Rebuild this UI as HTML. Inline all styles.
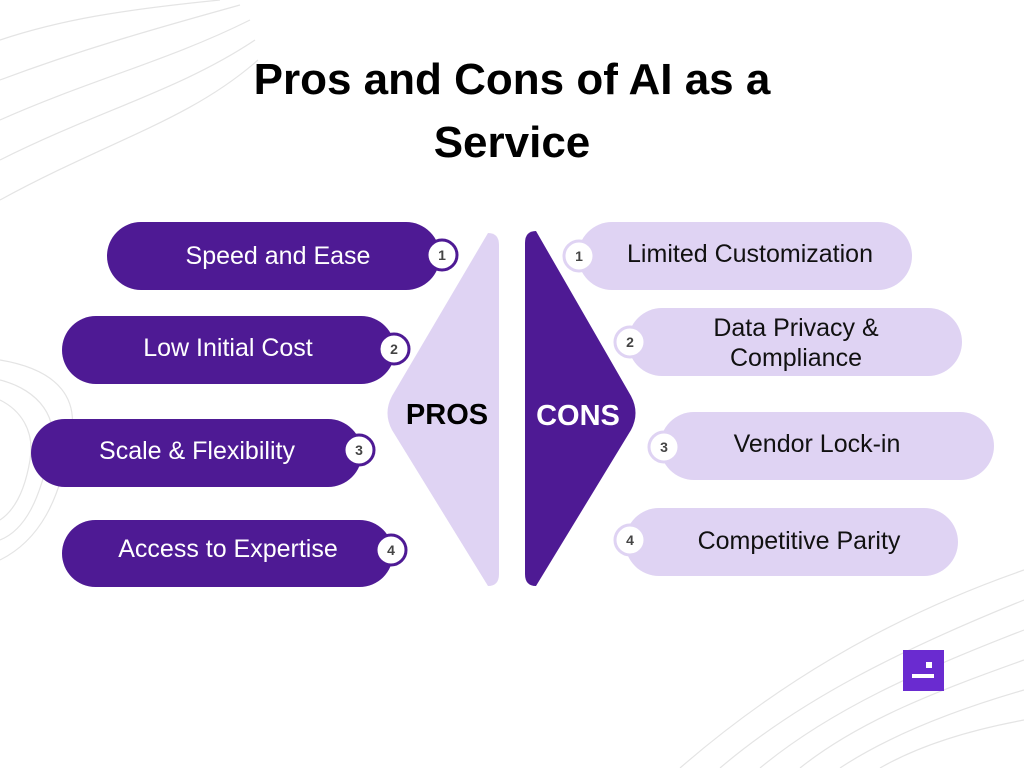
<!DOCTYPE html>
<html><head><style>
html,body{margin:0;padding:0;background:#fff;}
svg{display:block;}
text{font-family:"Liberation Sans",sans-serif;}
</style></head><body>
<svg width="1024" height="768" viewBox="0 0 1024 768" xmlns="http://www.w3.org/2000/svg">
<g fill="none" stroke="#e4e4e4" stroke-width="1.2">
<path d="M0,40 C60,20 120,10 220,0"/><path d="M0,80 C80,50 150,30 240,5"/><path d="M0,120 C90,80 170,60 250,20"/><path d="M0,160 C100,110 180,90 255,40"/><path d="M0,200 C110,140 190,120 258,60"/>
<path d="M0,360 C60,370 80,400 70,440 C60,500 40,540 0,560"/><path d="M0,380 C40,390 60,420 50,450 C40,500 25,530 0,540"/><path d="M0,400 C20,410 35,430 30,460 C25,490 15,510 0,520"/>
<path d="M720,768 C800,700 900,650 1024,600"/><path d="M760,768 C830,710 920,670 1024,630"/><path d="M800,768 C860,720 940,690 1024,660"/><path d="M840,768 C890,735 955,710 1024,690"/><path d="M880,768 C920,745 970,730 1024,720"/><path d="M680,768 C770,690 880,620 1024,570"/>
</g>
<text x="512" y="94" text-anchor="middle" font-size="44" font-weight="bold" fill="#000">Pros and Cons of AI as a</text>
<text x="512" y="157" text-anchor="middle" font-size="44" font-weight="bold" fill="#000">Service</text>

<path d="M488,233 Q499,233 499,245 L499,574 Q499,586 488,586 L392,430 Q383,413 392,396 Z" fill="#dfd3f3"/>
<text x="447" y="424" text-anchor="middle" font-size="29" font-weight="bold" fill="#000">PROS</text>
<path d="M536,231 Q525,231 525,243 L525,574 Q525,586 536,586 L631,430 Q640,413 631,396 Z" fill="#4e1a94"/>
<text x="578" y="425" text-anchor="middle" font-size="29" font-weight="bold" fill="#fff">CONS</text>

<g fill="#4e1a94">
<rect x="107" y="222" width="333" height="68" rx="34"/>
<rect x="62" y="316" width="333" height="68" rx="34"/>
<rect x="31" y="419" width="331" height="68" rx="34"/>
<rect x="62" y="520" width="331" height="67" rx="33.5"/>
</g>
<g font-size="25" fill="#fff" text-anchor="middle">
<text x="278" y="264">Speed and Ease</text>
<text x="228" y="356">Low Initial Cost</text>
<text x="197" y="459">Scale &amp; Flexibility</text>
<text x="228" y="557">Access to Expertise</text>
</g>
<g fill="#fff" stroke="#4e1a94" stroke-width="3">
<circle cx="442" cy="255" r="15"/><circle cx="394" cy="349" r="15"/><circle cx="359" cy="450" r="15"/><circle cx="391" cy="550" r="15"/>
</g>
<g font-size="14" font-weight="bold" fill="#444" text-anchor="middle">
<text x="442" y="260">1</text><text x="394" y="354">2</text><text x="359" y="455">3</text><text x="391" y="555">4</text>
</g>

<g fill="#dfd3f3">
<rect x="578" y="222" width="334" height="68" rx="34"/>
<rect x="628" y="308" width="334" height="68" rx="34"/>
<rect x="660" y="412" width="334" height="68" rx="34"/>
<rect x="625" y="508" width="333" height="68" rx="34"/>
</g>
<g font-size="25" fill="#111" text-anchor="middle">
<text x="750" y="262">Limited Customization</text>
<text x="796" y="336">Data Privacy &amp;</text>
<text x="796" y="366">Compliance</text>
<text x="817" y="452">Vendor Lock-in</text>
<text x="799" y="549">Competitive Parity</text>
</g>
<g fill="#fff" stroke="#dfd3f3" stroke-width="3">
<circle cx="579" cy="256" r="15"/><circle cx="630" cy="342" r="15"/><circle cx="664" cy="447" r="15"/><circle cx="630" cy="540" r="15"/>
</g>
<g font-size="14" font-weight="bold" fill="#444" text-anchor="middle">
<text x="579" y="261">1</text><text x="630" y="347">2</text><text x="664" y="452">3</text><text x="630" y="545">4</text>
</g>

<rect x="903" y="650" width="41" height="41" fill="#6a2bd0"/>
<rect x="926" y="662" width="6" height="6" fill="#fff"/>
<rect x="912" y="674" width="22" height="4" fill="#fff"/>
</svg>
</body></html>
